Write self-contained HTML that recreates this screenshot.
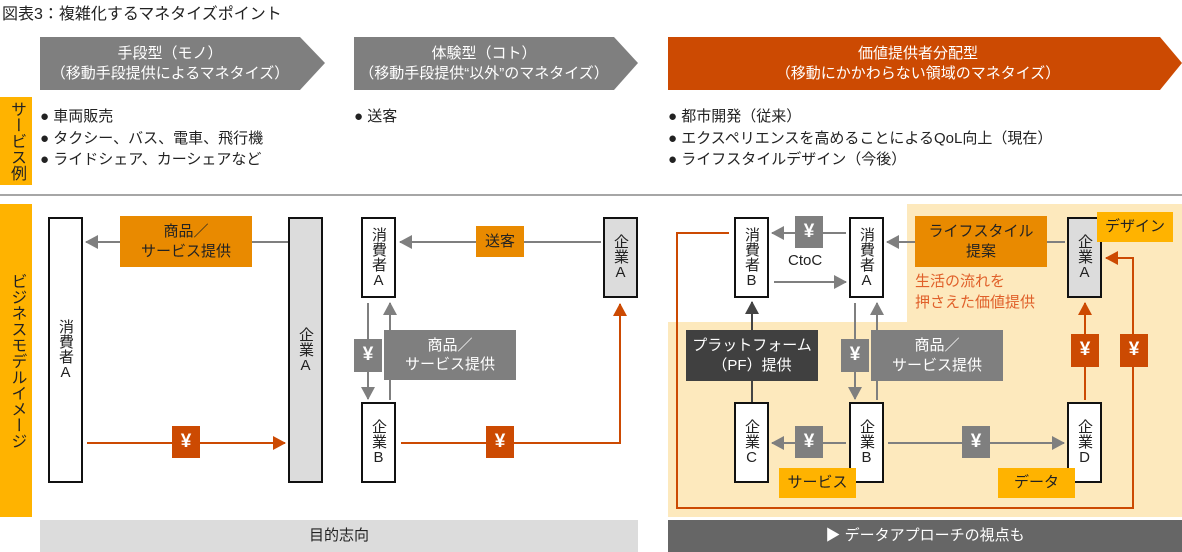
<!DOCTYPE html>
<html><head><meta charset="utf-8"><style>
*{margin:0;padding:0;box-sizing:border-box}
body{width:1182px;height:552px;position:relative;background:#fff;font-family:"Liberation Sans","Noto Sans CJK JP",sans-serif;color:#222;overflow:hidden}
.a{position:absolute}
.box{position:absolute;border:2px solid #111;background:#fff;display:flex;align-items:center;justify-content:center;font-size:15px}
.box span{writing-mode:vertical-rl;text-orientation:upright;line-height:1}
.g{background:#dcdcdc}
.lb{position:absolute;display:flex;align-items:center;justify-content:center;text-align:center;font-size:15px;line-height:1.3;color:#fff}
.or{background:#e98a00;color:#222}
.gr{background:#7f7f7f}
.rd{background:#cc4a02;font-size:19px;font-weight:bold}
.gr.y{font-size:19px;font-weight:bold}
.ye{background:#ffb300;color:#222}
.bl{font-size:15px;line-height:21.5px}
</style></head><body>
<div class="a" style="left:2px;top:0px;font-size:16px">図表3：複雑化するマネタイズポイント</div>

<svg class="a" style="left:0;top:0" width="1182" height="552">
<polygon points="40,37 300,37 325,63 300,90 40,90" fill="#7f7f7f"/>
<polygon points="354,37 614,37 638,63 614,90 354,90" fill="#7f7f7f"/>
<polygon points="668,37 1160,37 1182,63 1160,90 668,90" fill="#cc4a02"/>
<line x1="0" y1="195" x2="1182" y2="195" stroke="#888" stroke-width="1.5"/>
<polygon points="907,204 1182,204 1182,517 668,517 668,322 907,322" fill="#fde9bd"/>
</svg>
<div class="lb" style="left:40px;top:37px;width:260px;height:53px">手段型（モノ）<br>（移動手段提供によるマネタイズ）</div>
<div class="lb" style="left:354px;top:37px;width:260px;height:53px">体験型（コト）<br>（移動手段提供“以外”のマネタイズ）</div>
<div class="lb" style="left:668px;top:37px;width:500px;height:53px">価値提供者分配型<br>（移動にかかわらない領域のマネタイズ）</div>

<div class="lb ye" style="left:0;top:97px;width:32px;height:88px;font-size:16px"><span style="writing-mode:vertical-rl;text-orientation:upright;line-height:1">サービス例</span></div>
<div class="a bl" style="left:40px;top:106px">● 車両販売<br>● タクシー、バス、電車、飛行機<br>● ライドシェア、カーシェアなど</div>
<div class="a bl" style="left:354px;top:106px">● 送客</div>
<div class="a bl" style="left:668px;top:106px">● 都市開発（従来）<br>● エクスペリエンスを高めることによるQoL向上（現在）<br>● ライフスタイルデザイン（今後）</div>

<div class="lb ye" style="left:0;top:204px;width:32px;height:313px;font-size:16px"><span style="writing-mode:vertical-rl;text-orientation:upright;line-height:1.05">ビジネスモデルイメージ</span></div>

<div class="lb" style="left:40px;top:520px;width:598px;height:32px;background:#dcdcdc;color:#222">目的志向</div>
<div class="lb" style="left:668px;top:520px;width:514px;height:32px;background:#666">▶ データアプローチの視点も</div>

<svg class="a" style="left:0;top:0" width="1182" height="552">
<defs>
<marker id="mg" markerWidth="13" markerHeight="14" refX="12" refY="7" orient="auto" markerUnits="userSpaceOnUse"><path d="M0,0 L13,7 L0,14z" fill="#7f7f7f"/></marker>
<marker id="mr" markerWidth="13" markerHeight="14" refX="12" refY="7" orient="auto" markerUnits="userSpaceOnUse"><path d="M0,0 L13,7 L0,14z" fill="#cc4a02"/></marker>
<marker id="md" markerWidth="13" markerHeight="14" refX="12" refY="7" orient="auto" markerUnits="userSpaceOnUse"><path d="M0,0 L13,7 L0,14z" fill="#444"/></marker>
</defs>
<g stroke-width="2" fill="none">
<line x1="288" y1="242" x2="86" y2="242" stroke="#7f7f7f" marker-end="url(#mg)"/>
<line x1="87" y1="443" x2="285" y2="443" stroke="#cc4a02" marker-end="url(#mr)"/>
<line x1="601" y1="242" x2="400" y2="242" stroke="#7f7f7f" marker-end="url(#mg)"/>
<line x1="368" y1="303" x2="368" y2="399" stroke="#7f7f7f" marker-end="url(#mg)"/>
<line x1="390" y1="400" x2="390" y2="303" stroke="#7f7f7f" marker-end="url(#mg)"/>
<polyline points="401,443 620,443 620,304" stroke="#cc4a02" marker-end="url(#mr)"/>
<line x1="1065" y1="242" x2="887" y2="242" stroke="#7f7f7f" marker-end="url(#mg)"/>
<line x1="846" y1="233" x2="772" y2="233" stroke="#7f7f7f" marker-end="url(#mg)"/>
<line x1="774" y1="282" x2="846" y2="282" stroke="#7f7f7f" marker-end="url(#mg)"/>
<line x1="752" y1="402" x2="752" y2="302" stroke="#444" marker-end="url(#md)"/>
<line x1="855" y1="303" x2="855" y2="399" stroke="#7f7f7f" marker-end="url(#mg)"/>
<line x1="877" y1="400" x2="877" y2="303" stroke="#7f7f7f" marker-end="url(#mg)"/>
<line x1="846" y1="443" x2="772" y2="443" stroke="#7f7f7f" marker-end="url(#mg)"/>
<line x1="888" y1="443" x2="1064" y2="443" stroke="#7f7f7f" marker-end="url(#mg)"/>
<line x1="1085" y1="400" x2="1085" y2="303" stroke="#cc4a02" marker-end="url(#mr)"/>
<polyline points="729,233 677,233 677,508 1133,508 1133,258 1106,258" stroke="#cc4a02" marker-end="url(#mr)"/>
</g>
</svg>

<div class="box" style="left:48px;top:217px;width:35px;height:266px"><span>消費者A</span></div>
<div class="box g" style="left:288px;top:217px;width:35px;height:266px"><span>企業A</span></div>
<div class="lb or" style="left:120px;top:216px;width:132px;height:51px">商品／<br>サービス提供</div>
<div class="lb rd" style="left:172px;top:426px;width:28px;height:32px">¥</div>

<div class="box" style="left:361px;top:217px;width:35px;height:81px"><span>消費者A</span></div>
<div class="box g" style="left:603px;top:217px;width:35px;height:81px"><span>企業A</span></div>
<div class="box" style="left:361px;top:402px;width:35px;height:81px"><span>企業B</span></div>
<div class="lb or" style="left:476px;top:226px;width:48px;height:31px">送客</div>
<div class="lb gr y" style="left:354px;top:339px;width:28px;height:33px">¥</div>
<div class="lb gr" style="left:384px;top:330px;width:132px;height:50px">商品／<br>サービス提供</div>
<div class="lb rd" style="left:486px;top:426px;width:28px;height:32px">¥</div>

<div class="box" style="left:734px;top:217px;width:35px;height:81px"><span>消費者B</span></div>
<div class="box" style="left:849px;top:217px;width:35px;height:81px"><span>消費者A</span></div>
<div class="box g" style="left:1067px;top:217px;width:35px;height:81px"><span>企業A</span></div>
<div class="lb ye" style="left:1097px;top:212px;width:76px;height:30px">デザイン</div>
<div class="lb or" style="left:915px;top:216px;width:132px;height:51px">ライフスタイル<br>提案</div>
<div class="a" style="left:915px;top:271px;font-size:15px;line-height:21px;color:#e0602a">生活の流れを<br>押さえた価値提供</div>
<div class="lb gr y" style="left:795px;top:216px;width:28px;height:32px">¥</div>
<div class="a" style="left:788px;top:252px;font-size:15px">CtoC</div>
<div class="lb" style="left:686px;top:330px;width:132px;height:51px;background:#404040">プラットフォーム<br>（PF）提供</div>
<div class="lb gr y" style="left:841px;top:339px;width:28px;height:33px">¥</div>
<div class="lb gr" style="left:871px;top:330px;width:132px;height:51px">商品／<br>サービス提供</div>
<div class="box" style="left:734px;top:402px;width:35px;height:81px"><span>企業C</span></div>
<div class="box" style="left:849px;top:402px;width:35px;height:81px"><span>企業B</span></div>
<div class="box" style="left:1067px;top:402px;width:35px;height:81px"><span>企業D</span></div>
<div class="lb gr y" style="left:795px;top:426px;width:28px;height:32px">¥</div>
<div class="lb gr y" style="left:962px;top:426px;width:28px;height:32px">¥</div>
<div class="lb ye" style="left:779px;top:468px;width:77px;height:30px">サービス</div>
<div class="lb ye" style="left:998px;top:468px;width:77px;height:30px">データ</div>
<div class="lb rd" style="left:1071px;top:334px;width:28px;height:33px">¥</div>
<div class="lb rd" style="left:1120px;top:334px;width:28px;height:33px">¥</div>
</body></html>
